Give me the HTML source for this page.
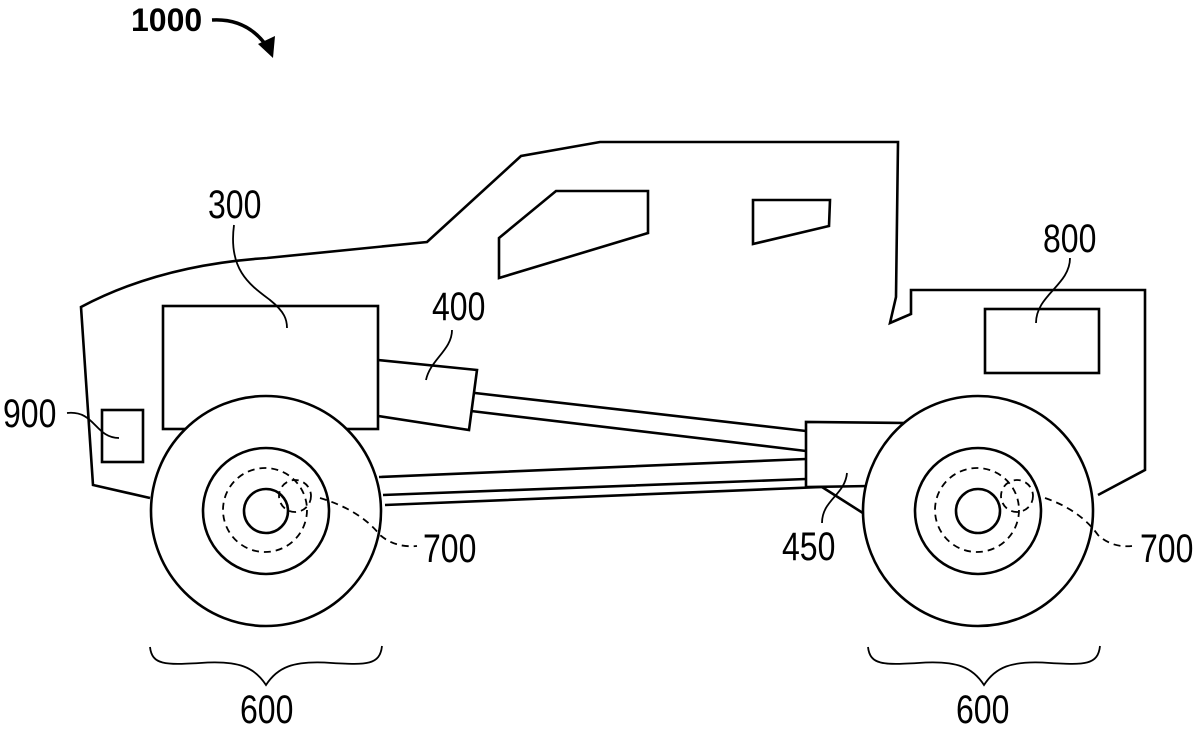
<!DOCTYPE html>
<html><head><meta charset="utf-8"><style>
html,body{margin:0;padding:0;background:#fff;}
svg{display:block;}
text{font-family:"Liberation Sans",sans-serif;fill:#000;}
</style></head><body>
<svg width="1200" height="730" viewBox="0 0 1200 730" xmlns="http://www.w3.org/2000/svg">
<g fill="none" stroke="#000" stroke-width="2.6" stroke-linejoin="miter">
<path d="M150,498 L93,485 L81,307 Q160,265 267,258 L427,242 L521,156 L600,142 L898,142 L896,297 L890,323 L911,314 L911,290 L1145,290 L1145,470 L1098,495"/>
<path d="M499,238 L556,191 L648,191 L648,233 L499,278 Z"/>
<path d="M753,200 L830,200 L829,226 L753,244 Z"/>
<rect x="163" y="306" width="215" height="123"/>
<path d="M378,360 L477,370 L469,430 L378,416"/>
<path d="M475,393 L806,431 M471,411 L806,451"/>
<path d="M379,477 L806,459 M383,495 L806,479 M385,505 L822,487"/>
<path d="M907,423 L806,422 L806,487 L870,486"/>
<path d="M822,487 L866,515"/>
<rect x="985" y="309" width="114" height="64"/>
<rect x="102" y="410" width="41" height="52"/>
</g>
<g fill="#fff" stroke="#000" stroke-width="2.6">
<circle cx="266" cy="511" r="115"/>
<circle cx="978" cy="511" r="115"/>
</g>
<g fill="none" stroke="#000" stroke-width="2.6">
<circle cx="266" cy="511" r="63"/>
<circle cx="266" cy="511" r="22"/>
<circle cx="978" cy="511" r="63"/>
<circle cx="978" cy="511" r="22"/>
</g>
<g fill="none" stroke="#000" stroke-width="1.8" stroke-dasharray="7,5">
<circle cx="265" cy="510" r="42"/>
<circle cx="977" cy="510" r="42"/>
<circle cx="295" cy="496" r="16"/>
<circle cx="1017" cy="496" r="16"/>
<path d="M320,498 Q360,510 380,535 Q395,548 417,546"/>
<path d="M1045,498 Q1080,510 1098,535 Q1112,548 1132,546"/>
</g>
<g fill="none" stroke="#000" stroke-width="1.8">
<path d="M234,225 C228,270 250,285 270,300 C285,312 287,320 287,328"/>
<path d="M452,330 C452,350 430,360 426,380"/>
<path d="M1070,258 C1070,285 1036,295 1036,323"/>
<path d="M847,473 C845,495 822,500 822,523"/>
<path d="M67,413 C95,410 95,438 119,438"/>
<path d="M150,647 C152,665 165,665 200,663 C240,660 255,668 266,685 C277,668 292,660 332,663 C367,665 380,665 382,646"/>
<path d="M868,647 C870,665 883,665 918,663 C958,660 973,668 984,685 C995,668 1010,660 1050,663 C1085,665 1098,665 1100,646"/>
</g>
<path d="M212,20 Q248,18 268,48" fill="none" stroke="#000" stroke-width="3.5"/>
<path d="M258,44 L273,58 L275,36 Z" fill="#000"/>
<text x="131" y="31" font-size="32" font-weight="bold">1000</text>
<g font-size="40">
<text x="208" y="218" transform="translate(208,0) scale(0.8,1) translate(-208,0)">300</text>
<text x="432" y="320" transform="translate(432,0) scale(0.8,1) translate(-432,0)">400</text>
<text x="1043" y="252" transform="translate(1043,0) scale(0.8,1) translate(-1043,0)">800</text>
<text x="3" y="427" transform="translate(3,0) scale(0.8,1) translate(-3,0)">900</text>
<text x="782" y="560" transform="translate(782,0) scale(0.8,1) translate(-782,0)">450</text>
<text x="423" y="562" transform="translate(423,0) scale(0.8,1) translate(-423,0)">700</text>
<text x="1140" y="562" transform="translate(1140,0) scale(0.8,1) translate(-1140,0)">700</text>
<text x="240" y="723" transform="translate(240,0) scale(0.8,1) translate(-240,0)">600</text>
<text x="956" y="723" transform="translate(956,0) scale(0.8,1) translate(-956,0)">600</text>
</g>
</svg>
</body></html>
